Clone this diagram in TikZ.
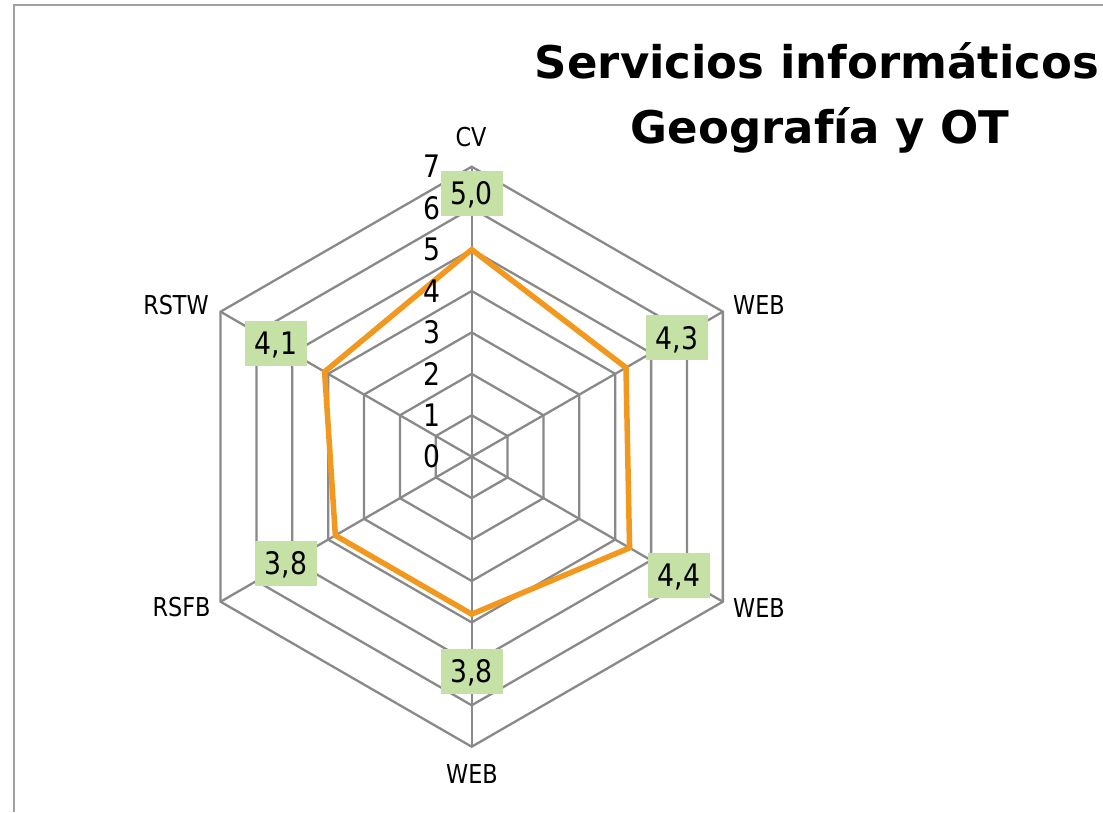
\documentclass[tikz,border=0pt]{standalone}
\usepackage{fontspec}
\setmainfont{DejaVu Sans}
\newfontfamily\lblfont{DejaVu Sans}[FakeStretch=0.86]
\definecolor{gridgray}{RGB}{137,137,137}
\definecolor{bordergray}{RGB}{160,160,160}
\definecolor{serieorange}{RGB}{242,152,30}
\definecolor{lblgreen}{RGB}{197,225,165}
\tikzset{
  gridline/.style={draw=gridgray, line width=2.3pt},
  serie/.style={draw=serieorange, line width=5.5pt, line join=miter},
  ticklbl/.style={font=\lblfont\fontsize{31}{33}\selectfont, inner sep=0pt, anchor=east},
  axislbl/.style={font=\lblfont\fontsize{26}{28}\selectfont, inner sep=0pt, anchor=base},
  datalbl/.style={font=\lblfont\fontsize{31}{33}\selectfont, fill=lblgreen, inner sep=0pt,
    minimum width=62pt, minimum height=45pt, text depth=0pt},
  titlelbl/.style={font=\bfseries\fontsize{45}{54}\selectfont, inner sep=0pt, anchor=base}
}
\begin{document}
\begin{tikzpicture}[x=1pt,y=-1pt]
\useasboundingbox (0,0) rectangle (1103,812);
\coordinate (bl) at (14,812);
\coordinate (tl) at (14,5);
\coordinate (tr) at (1103,5);
\draw[draw=bordergray, line width=2.5pt] (bl) -- (tl) -- (tr);
\begin{scope}[shift={(471.7,456.7)}, x=41.43pt, y=41.43pt]
  \coordinate (c) at (0,0);
  \foreach \r in {1,...,7}
    \draw[gridline] (90:\r) -- (30:\r) -- (-30:\r) -- (-90:\r) -- (-150:\r) -- (150:\r) -- cycle;
  \foreach \a/\n in {90/va,30/vb,-30/vc,-90/vd,-150/ve,150/vf}{
    \coordinate (\n) at (\a:7);
    \draw[gridline] (c) -- (\n);
  }
  \coordinate (da) at (90:5.0);
  \coordinate (db) at (30:4.3);
  \coordinate (dc) at (-30:4.4);
  \coordinate (dd) at (-90:3.8);
  \coordinate (de) at (-150:3.8);
  \coordinate (df) at (150:4.1);
  \draw[serie] (da) -- (db) -- (dc) -- (dd) -- (de) -- (df) -- cycle;
  \foreach \v in {0,...,7}
    \node[ticklbl] (t\v) at (-0.75,\v) {\v};
\end{scope}
\node[datalbl] (la) at (471.7,193.3) {5,0};
\node[datalbl] (lb) at (676.8,337.5) {4,3};
\node[datalbl] (lc) at (679,575.3) {4,4};
\node[datalbl] (ld) at (471.7,671.3) {3,8};
\node[datalbl] (le) at (285.8,563.3) {3,8};
\node[datalbl] (lf) at (275.8,343.3) {4,1};
\node[axislbl] (aa) at (471,146) {CV};
\node[axislbl] (ab) at (759,314) {WEB};
\node[axislbl] (ac) at (759,617) {WEB};
\node[axislbl] (ad) at (472,783) {WEB};
\node[axislbl] (af) at (176,314) {RSTW};
\node[axislbl] (ae) at (181.5,616) {RSFB};
\node[titlelbl] (title1) at (817,78) {Servicios informáticos};
\node[titlelbl] (title2) at (820,143) {Geografía y OT};
\end{tikzpicture}
\end{document}
